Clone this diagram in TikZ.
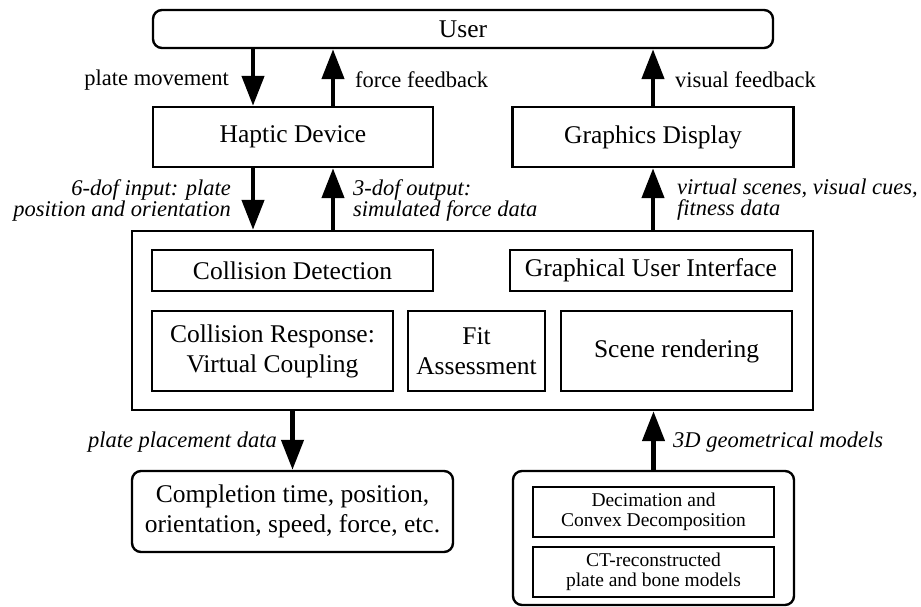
\documentclass[tikz,border=0pt]{standalone}
\usepackage{fontspec}
\setmainfont{Liberation Serif}
\usepackage{tikz}
\usetikzlibrary{arrows,arrows.meta,positioning,calc}

\begin{document}
\begin{tikzpicture}[x=1pt, y=-1pt,
	box/.style={draw, line width=2.4pt, inner sep=0pt, align=center, font=\fontsize{25.5}{30}\selectfont},
	rbox/.style={box, rounded corners=9pt},
	inbox/.style={draw, line width=1.5pt, inner sep=0pt, align=center, font=\fontsize{25.5}{30}\selectfont},
	flow/.style={line width=4.5pt, -{Triangle[width=22pt,length=30pt]}},
	lab/.style={font=\fontsize{22.5}{21}\selectfont, inner sep=0pt},
	ilab/.style={font=\fontsize{22.5}{21}\selectfont\itshape, inner sep=0pt}]

	\useasboundingbox (0,0) rectangle (921,607);

	%Kaesten oben
	\node[rbox, minimum width=620, minimum height=38] (user) at (463,29) {User};
	\node[box, minimum width=280, minimum height=60] (haptic) at (293,137) {Haptic Device};
	\node[box, minimum width=281, minimum height=60] (display) at (653,137) {Graphics Display};

	%Simulation
	\node[box, minimum width=681, minimum height=179] (sim) at (472.5,320.5) {};
	\node[inbox, minimum width=281, minimum height=41] (detect) at (292.5,270.5) {Collision Detection};
	\node[inbox, minimum width=282, minimum height=41] (gui) at (651,270.5) {Graphical User Interface};
	\node[inbox, minimum width=241, minimum height=80] (response) at (272.5,351) {Collision Response:\\Virtual Coupling};
	\node[inbox, minimum width=137, minimum height=80] (fit) at (476.5,351) {Fit\\Assessment};
	\node[inbox, minimum width=231, minimum height=80] (render) at (676.5,351) {Scene rendering};

	%Kaesten unten
	\node[rbox, minimum width=321, minimum height=81] (result) at (292.5,511.5) {Completion time, position,\\orientation, speed, force, etc.};
	\node[rbox, minimum width=281, minimum height=134] (models) at (653.5,538) {};
	\node[inbox, minimum width=241, minimum height=50, font=\fontsize{19.5}{20}\selectfont] (decim) at (653.5,512) {Decimation and\\Convex Decomposition};
	\node[inbox, minimum width=241, minimum height=50, font=\fontsize{19.5}{20}\selectfont] (ct) at (653.5,572) {CT-reconstructed\\plate and bone models};

	%Pfeile
	\draw[flow] ([xshift=-40pt]haptic.north |- user.south) -- ([xshift=-40pt]haptic.north);
	\draw[flow] ([xshift=40pt]haptic.north) -- ([xshift=40pt]haptic.north |- user.south);
	\draw[flow] (display.north) -- (display.north |- user.south);
	\draw[flow] ([xshift=-40pt]haptic.south) -- ([xshift=-40pt]haptic.south |- sim.north);
	\draw[flow] ([xshift=40pt]haptic.south |- sim.north) -- ([xshift=40pt]haptic.south);
	\draw[flow] (display.south |- sim.north) -- (display.south);
	\draw[flow] (result.north |- sim.south) -- (result.north);
	\draw[flow] (models.north) -- (models.north |- sim.south);

	%Beschriftung
	\node[lab, anchor=east] (lmove) at (229,80) {plate movement};
	\node[lab, anchor=west] (lforce) at (355,80) {force feedback};
	\node[lab, anchor=west] (lvisual) at (675,80) {visual feedback};
	\node[ilab, anchor=east, align=right] (linput) at (231,200) {6-dof input: plate\\position and orientation};
	\node[ilab, anchor=west, align=left] (loutput) at (353,200) {3-dof output:\\simulated force data};
	\node[ilab, anchor=west, align=left] (lscene) at (677,200) {virtual scenes, visual cues,\\fitness data};
	\node[ilab, anchor=east] (lplace) at (277,442) {plate placement data};
	\node[ilab, anchor=west] (lgeom) at (673,442) {3D geometrical models};

\end{tikzpicture}
\end{document}
